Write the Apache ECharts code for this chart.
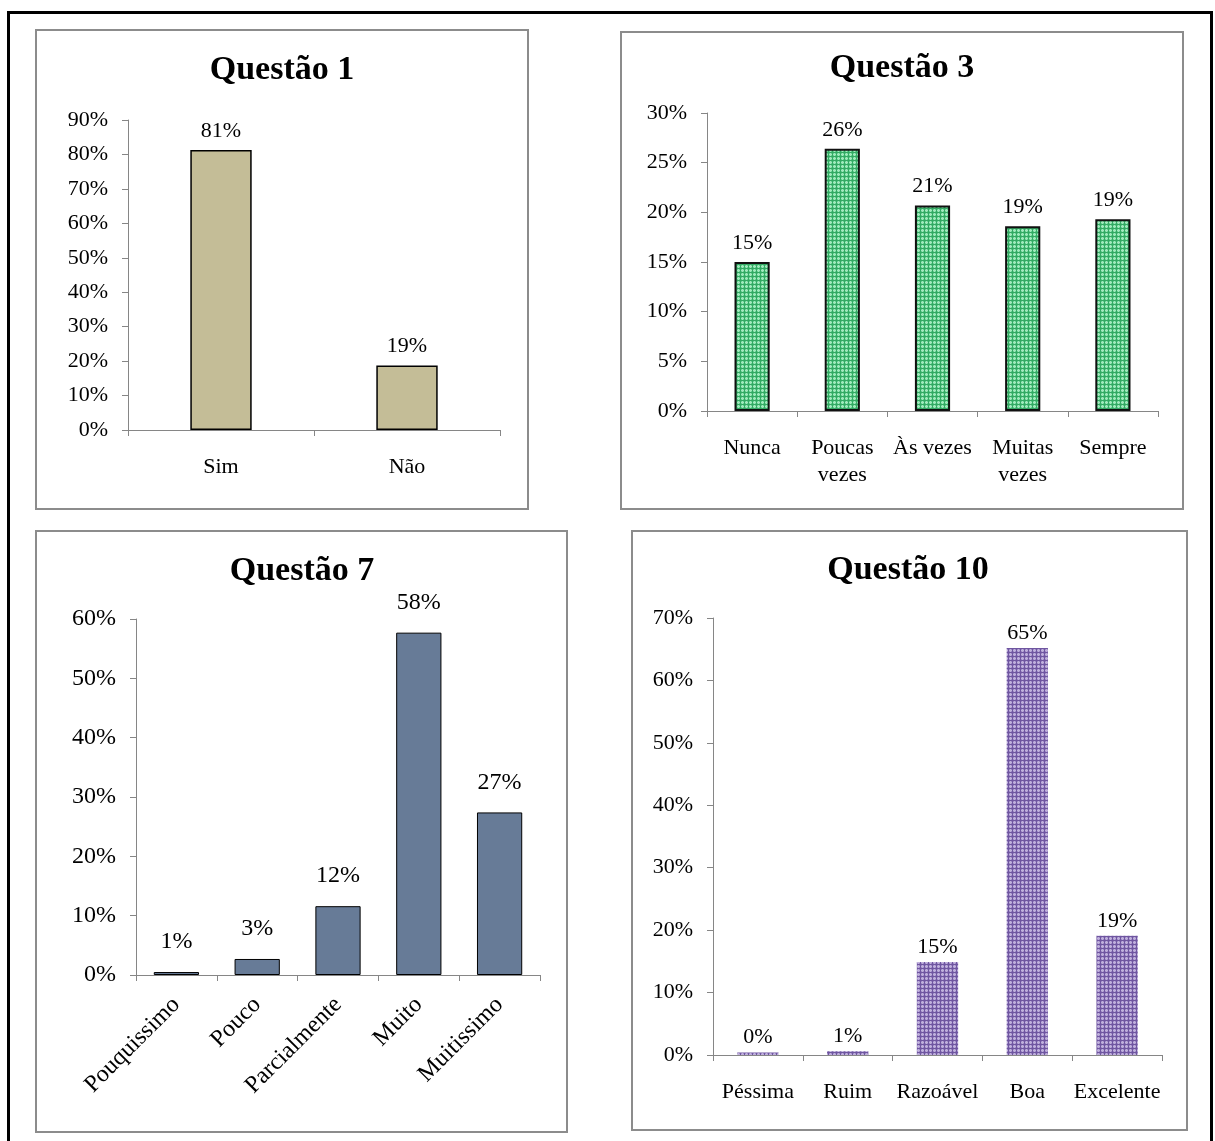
<!DOCTYPE html>
<html>
<head>
<meta charset="utf-8">
<script src="https://cdn.jsdelivr.net/npm/echarts@6/dist/echarts.min.js"></script>
<style>
  html, body { margin: 0; padding: 0; background: #fff; }
  #chart { width: 1215px; height: 1141px; }
</style>
</head>
<body>
<div id="chart"></div>
<script>
// dados
const q1Categories = ['Sim', 'Não'];
const q1Values = [81.3, 18.7];

const q3Categories = ['Nunca', 'Poucas\nvezes', 'Às vezes', 'Muitas\nvezes', 'Sempre'];
const q3Values = [15.0, 26.4, 20.7, 18.6, 19.3];

const q7Categories = ['Pouquissimo', 'Pouco', 'Parcialmente', 'Muito', 'Muitissimo'];
const q7Values = [0.5, 2.7, 11.6, 57.7, 27.4];

const q10Categories = ['Péssima', 'Ruim', 'Razoável', 'Boa', 'Excelente'];
const q10Values = [0.4, 0.6, 14.9, 65.2, 19.1];

// eixo y de cada painel: [max, intervalo]
const yScales = [[90, 10], [30, 5], [60, 10], [70, 10]];

const FONT = "'Liberation Serif', 'Times New Roman', serif";
const AXIS_GRAY = '#868686';

// textura quadriculada das barras
function gridPattern(base, dark, light) {
    const c = document.createElement('canvas');
    c.width = 4;
    c.height = 4;
    const ctx = c.getContext('2d');
    ctx.fillStyle = base;
    ctx.fillRect(0, 0, 4, 4);
    ctx.fillStyle = light;
    ctx.fillRect(2, 0, 1, 4);
    ctx.fillRect(0, 2, 4, 1);
    ctx.fillStyle = dark;
    ctx.fillRect(0, 0, 4, 1);
    ctx.fillRect(0, 0, 1, 4);
    return { image: c, repeat: 'repeat' };
}

const chart = echarts.init(document.getElementById('chart'));

const panels = [
    { title: 'Questão 1', cx: 282, ty: 53, cats: q1Categories, vals: q1Values, fs: 22,
      grid: { left: 128, top: 120, width: 372, height: 310 }, barWidth: '33%',
      item: { color: '#c4bd97', borderColor: '#000', borderWidth: 1.5 }, labelDist: 8 },
    { title: 'Questão 3', cx: 902, ty: 51, cats: q3Categories, vals: q3Values, fs: 22,
      grid: { left: 707, top: 113, width: 451, height: 298 }, barWidth: '39%',
      item: { color: gridPattern('#62d28f', '#34a863', '#a2e8bd'), borderColor: '#111', borderWidth: 2 }, labelDist: 8 },
    { title: 'Questão 7', cx: 302, ty: 554, cats: q7Categories, vals: q7Values, fs: 24,
      grid: { left: 136, top: 619, width: 404, height: 356 }, barWidth: '56%',
      item: { color: '#677b97', borderColor: '#000', borderWidth: 1 }, labelDist: 18, rotate: 45 },
    { title: 'Questão 10', cx: 908, ty: 553, cats: q10Categories, vals: q10Values, fs: 22,
      grid: { left: 713, top: 618, width: 449, height: 437 }, barWidth: '46%',
      item: { color: gridPattern('#9c87c6', '#6f56a0', '#bfb0db') }, labelDist: 4 }
];

const option = {
    animation: false,
    backgroundColor: '#fff',
    graphic: [
        { type: 'rect', shape: { x: 8.5, y: 12.5, width: 1203, height: 1140 },
          style: { fill: 'none', stroke: '#000', lineWidth: 3 } },
        { type: 'rect', shape: { x: 36, y: 30, width: 492, height: 479 },
          style: { fill: 'none', stroke: '#8c8c8c', lineWidth: 2 } },
        { type: 'rect', shape: { x: 621, y: 32, width: 562, height: 477 },
          style: { fill: 'none', stroke: '#8c8c8c', lineWidth: 2 } },
        { type: 'rect', shape: { x: 36, y: 531, width: 531, height: 601 },
          style: { fill: 'none', stroke: '#8c8c8c', lineWidth: 2 } },
        { type: 'rect', shape: { x: 632, y: 531, width: 555, height: 599 },
          style: { fill: 'none', stroke: '#8c8c8c', lineWidth: 2 } }
    ],
    title: panels.map(p => ({
        text: p.title,
        left: p.cx,
        top: p.ty,
        textAlign: 'center',
        padding: 0,
        textStyle: { fontFamily: FONT, fontSize: 34, fontWeight: 'bold', color: '#000' }
    })),
    grid: panels.map(p => Object.assign({ containLabel: false }, p.grid)),
    xAxis: panels.map((p, i) => ({
        type: 'category',
        gridIndex: i,
        data: p.cats,
        axisLine: { lineStyle: { color: AXIS_GRAY, width: 1 } },
        axisTick: { show: true, length: 6, lineStyle: { color: AXIS_GRAY } },
        axisLabel: {
            color: '#000',
            fontFamily: FONT,
            fontSize: p.fs,
            lineHeight: 27,
            margin: p.rotate ? 26 : 24,
            rotate: p.rotate || 0,
            interval: 0
        }
    })),
    yAxis: panels.map((p, i) => ({
        type: 'value',
        gridIndex: i,
        min: 0,
        max: yScales[i][0],
        interval: yScales[i][1],
        splitLine: { show: false },
        axisLine: { show: true, lineStyle: { color: AXIS_GRAY, width: 1 } },
        axisTick: { show: true, length: 6, lineStyle: { color: AXIS_GRAY } },
        axisLabel: {
            color: '#000',
            fontFamily: FONT,
            fontSize: p.fs,
            margin: 20,
            formatter: '{value}%'
        }
    })),
    series: panels.map((p, i) => ({
        type: 'bar',
        xAxisIndex: i,
        yAxisIndex: i,
        data: p.vals,
        barWidth: p.barWidth,
        itemStyle: p.item,
        label: {
            show: true,
            position: 'top',
            distance: p.labelDist,
            color: '#000',
            fontFamily: FONT,
            fontSize: p.fs,
            formatter: d => Math.round(d.value) + '%'
        }
    }))
};

chart.setOption(option);
</script>
</body>
</html>
